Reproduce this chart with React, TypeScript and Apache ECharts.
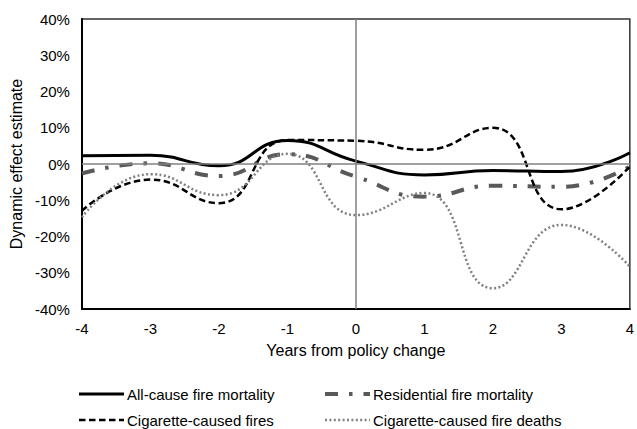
import React, { useEffect, useRef } from "react";
import * as echarts from "echarts";

const years = [-4, -3, -2, -1, 0, 1, 2, 3, 4];
const allCause = [2.3, 2.4, -0.5, 6.5, 0.8, -3.0, -1.8, -2.1, 3.1];
const residential = [-2.6, 0.2, -3.3, 2.7, -3.5, -9.0, -6.0, -6.3, -0.7];
const cigFires = [-12.9, -4.3, -10.8, 6.6, 6.4, 3.9, 10.0, -12.5, -0.7];
const cigDeaths = [-14.7, -2.8, -8.6, 2.8, -14.1, -8.0, -34.3, -16.8, -28.3];
const seriesNames = [
  "All-cause fire mortality",
  "Residential fire mortality",
  "Cigarette-caused fires",
  "Cigarette-caused fire deaths",
];
const yTicks = { min: -40, max: 40, step: 10 };
const xTicks = { min: -4, max: 4, step: 1 };

const FONT = "'Liberation Sans', Arial, sans-serif";

const lineStyles = [
  { color: "#000000", width: 3, dash: null as number[] | null, cap: "butt" },
  { color: "#595959", width: 4, dash: [13, 11, 3.5, 11], cap: "butt" },
  { color: "#000000", width: 2.5, dash: [6.5, 3.5], cap: "butt" },
  { color: "#808080", width: 2.5, dash: [2, 2.4], cap: "butt" },
];

function pairs(vals: number[]) {
  return years.map((x, i) => [x, vals[i]]);
}

export default function App() {
  const ref = useRef<HTMLDivElement>(null);
  useEffect(() => {
    if (!ref.current) return;
    const chart = echarts.init(ref.current, null, { renderer: "svg" });
    const values = [allCause, residential, cigFires, cigDeaths];

    const legendCols = [79, 325];
    const legendRows = [394, 420];
    const legendGraphics: any[] = [];
    seriesNames.forEach((name, i) => {
      const st = lineStyles[i];
      const x0 = legendCols[i % 2];
      const y = legendRows[Math.floor(i / 2)];
      legendGraphics.push({
        type: "line",
        shape: { x1: x0, y1: y, x2: x0 + 45, y2: y },
        style: {
          stroke: st.color,
          lineWidth: st.width,
          lineDash: st.dash || undefined,
          lineCap: st.cap,
        },
        silent: true,
      });
      legendGraphics.push({
        type: "text",
        x: x0 + 48,
        y: y,
        style: {
          text: name,
          font: `15px ${FONT}`,
          fill: "#000",
          textVerticalAlign: "middle",
          verticalAlign: "middle",
          textAlign: "left",
        },
        silent: true,
      });
    });

    chart.setOption({
      animation: false,
      textStyle: { fontFamily: FONT },
      grid: {
        left: 77,
        right: 4,
        top: 19,
        bottom: 120,
        show: true,
        borderColor: "#333",
        borderWidth: 1.5,
        backgroundColor: "transparent",
      },
      graphic: legendGraphics,
      xAxis: {
        type: "value",
        min: xTicks.min,
        max: xTicks.max,
        interval: xTicks.step,
        axisLine: { show: true, onZero: false, lineStyle: { color: "#000", width: 2 } },
        axisTick: { show: false },
        splitLine: { show: false },
        axisLabel: { fontSize: 15, color: "#000", margin: 12, fontFamily: FONT },
        name: "Years from policy change",
        nameLocation: "middle",
        nameGap: 33,
        nameTextStyle: { fontSize: 16, color: "#000", fontFamily: FONT },
      },
      yAxis: {
        type: "value",
        min: yTicks.min,
        max: yTicks.max,
        interval: yTicks.step,
        axisLine: { show: true, onZero: false, lineStyle: { color: "#000", width: 2 } },
        axisTick: { show: false },
        splitLine: { show: false },
        axisLabel: {
          fontSize: 15,
          color: "#000",
          margin: 12,
          fontFamily: FONT,
          formatter: "{value}%",
        },
        name: "Dynamic effect estimate",
        nameLocation: "middle",
        nameRotate: 90,
        nameGap: 53,
        nameTextStyle: { fontSize: 16, color: "#000", fontFamily: FONT },
      },
      series: [
        {
          name: "zero",
          type: "line",
          data: [],
          silent: true,
          markLine: {
            silent: true,
            symbol: "none",
            label: { show: false },
            lineStyle: { color: "#808080", width: 1.5, type: "solid" },
            data: [{ yAxis: 0 }, { xAxis: 0 }],
          },
        },
        ...seriesNames.map((name, i) => {
          const st = lineStyles[i];
          return {
            name,
            type: "line",
            data: pairs(values[i]),
            smooth: 0.5,
            symbol: "none",
            showSymbol: false,
            color: st.color,
            lineStyle: {
              color: st.color,
              width: st.width,
              type: st.dash || "solid",
              cap: st.cap,
            },
          };
        }),
      ],
    });
    return () => chart.dispose();
  }, []);
  return <div ref={ref} style={{ width: 637, height: 429, position: "absolute", left: 0, top: 0 }} />;
}
